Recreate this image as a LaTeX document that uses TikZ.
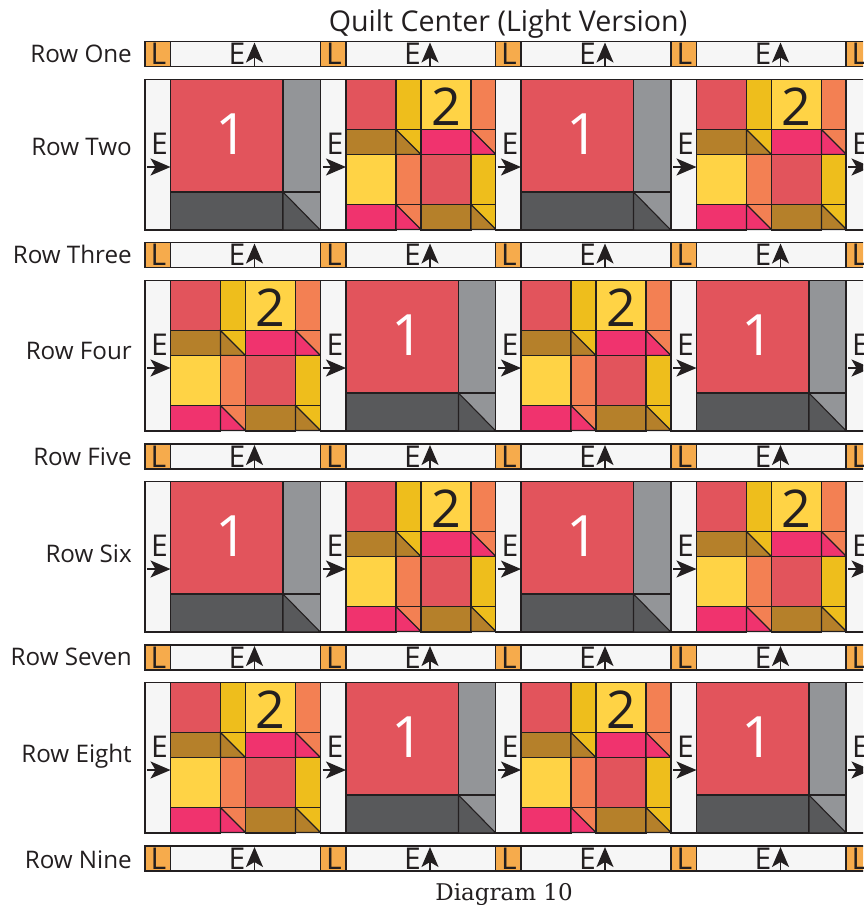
\documentclass[tikz,border=0pt]{standalone}
\usepackage{fontspec}
\setmainfont{Open Sans}
\newfontfamily\capfont{DejaVu Serif}
\usetikzlibrary{arrows.meta}
\definecolor{qline}{HTML}{231F20}
\definecolor{qred}{HTML}{E2545C}
\definecolor{qgrey}{HTML}{939598}
\definecolor{qdark}{HTML}{58595B}
\definecolor{qlorange}{HTML}{F6AB4C}
\definecolor{qbg}{HTML}{F6F6F6}
\definecolor{qdy}{HTML}{EEBE1C}
\definecolor{qly}{HTML}{FFD345}
\definecolor{qor}{HTML}{F38053}
\definecolor{qbr}{HTML}{B5802A}
\definecolor{qpk}{HTML}{F0336E}
\tikzset{
  cellbox/.style={draw=qline,line width=1.1pt},
  rowlabel/.style={anchor=base east,font=\fontsize{24.2}{24}\selectfont,text=qline,inner sep=0pt},
  letter/.style={anchor=base,font=\fontsize{30}{30}\selectfont,text=qline,inner sep=0pt},
  arrowline/.style={draw=qline,line width=1.6pt,-{Stealth[length=20pt,width=17pt,inset=5pt]}},
}
% cell: x y w h colour
\newcommand{\qcell}[5]{\path[cellbox,fill=#5] (#1,#2) rectangle ++(#3,#4);}
% triangle cell 25x25: x y lower-left colour, upper-right colour
\newcommand{\qtri}[4]{%
  \path[cellbox,fill=#4] (#1,#2) rectangle ++(25,25);
  \path[cellbox,fill=#3] (#1,#2) -- ++(25,25) -- ++(-25,0) -- cycle;}
% horizontal strip
\newcommand{\qstrip}[3]{% x y id
  \path[cellbox,fill=qlorange] (#1,#2) rectangle ++(25.5,25);
  \node[letter] (L#3) at (#1+13.5,#2+23.2) {L};
  \path[cellbox,fill=qbg] (#1+25.5,#2) rectangle ++(149.75,25);
  \ifdim #1pt<800pt
    \node[letter] (E#3) at (#1+92,#2+23.2) {E};
    \coordinate (ua#3) at (#1+109.5,#2+25);
    \coordinate (ub#3) at (#1+109.5,#2+1);
    \draw[arrowline] (ua#3) -- (ub#3);
  \fi}
% E panel
\newcommand{\qpanel}[3]{%
  \path[cellbox,fill=qbg] (#1,#2) rectangle ++(25.5,150.5);
  \node[letter] (P#3) at (#1+14.5,#2+74.5) {E};
  \coordinate (ra#3) at (#1+2,#2+87.5);
  \coordinate (rb#3) at (#1+25.5,#2+87.5);
  \draw[arrowline] (ra#3) -- (rb#3);}
\newcommand{\qblockone}[3]{%
  \qcell{#1}{#2}{112.5}{112.5}{qred}
  \qcell{#1+112.5}{#2}{37.25}{112.5}{qgrey}
  \qcell{#1}{#2+112.5}{112.5}{38}{qdark}
  \path[cellbox,fill=qgrey] (#1+112.5,#2+112.5) rectangle ++(37.25,38);
  \path[cellbox,fill=qdark] (#1+112.5,#2+112.5) -- ++(37.25,38) -- ++(-37.25,0) -- cycle;
  \node[anchor=base,inner sep=0pt,text=white,font=\fontsize{57}{57}\selectfont] (N#3) at (#1+61.5,#2+74.5) {1};}
\newcommand{\qblocktwo}[3]{%
  \qcell{#1}{#2}{50}{50}{qred}
  \qcell{#1+50}{#2}{25}{50}{qdy}
  \qcell{#1+75}{#2}{50}{50}{qly}
  \qcell{#1+125}{#2}{24.75}{50}{qor}
  \qcell{#1}{#2+50}{50}{25}{qbr}
  \qtri{#1+50}{#2+50}{qbr}{qdy}
  \qcell{#1+75}{#2+50}{50}{25}{qpk}
  \qtri{#1+125}{#2+50}{qpk}{qor}
  \qcell{#1}{#2+75}{50}{50}{qly}
  \qcell{#1+50}{#2+75}{25}{50}{qor}
  \qcell{#1+75}{#2+75}{50}{50}{qred}
  \qcell{#1+125}{#2+75}{24.75}{50}{qdy}
  \qcell{#1}{#2+125}{50}{25.5}{qpk}
  \qtri{#1+50}{#2+125}{qpk}{qor}
  \qcell{#1+75}{#2+125}{50}{25.5}{qbr}
  \qtri{#1+125}{#2+125}{qbr}{qdy}
  \node[anchor=base,inner sep=0pt,text=qline,font=\fontsize{52}{52}\selectfont] (N#3) at (#1+100,#2+45.5) {2};}
\begin{document}
\begin{tikzpicture}[x=1pt,y=-1pt]
\clip (0,0) rectangle (863,905);
\fill[white] (0,0) rectangle (863,905);
\foreach \sy/\sid in {41.5/a,242.5/b,444/c,645/d,846/e}{
  \foreach \sx/\cid in {145/1,320.5/2,495.5/3,671/4,846/5}{
    \qstrip{\sx}{\sy}{\sid\cid}
  }
}
\foreach \by/\first/\bid in {79.5/1/f,280.5/2/g,481.5/1/h,682.5/2/i}{
  \foreach \bx/\cid/\odd in {145/1/1,320.5/2/0,495.5/3/1,671/4/0}{
    \qpanel{\bx}{\by}{\bid\cid}
    \pgfmathtruncatemacro{\kind}{\odd==1 ? \first : 3-\first}
    \ifnum\kind=1
      \qblockone{\bx+25.5}{\by}{\bid\cid}
    \else
      \qblocktwo{\bx+25.5}{\by}{\bid\cid}
    \fi
  }
  \qpanel{846}{\by}{\bid5}
}
\node[rowlabel] (r1) at (132,62) {Row One};
\node[rowlabel] (r2) at (132,155) {Row Two};
\node[rowlabel] (r3) at (132,263) {Row Three};
\node[rowlabel] (r4) at (132,359) {Row Four};
\node[rowlabel] (r5) at (132,465) {Row Five};
\node[rowlabel] (r6) at (132,562) {Row Six};
\node[rowlabel] (r7) at (132,665) {Row Seven};
\node[rowlabel] (r8) at (132,762) {Row Eight};
\node[rowlabel] (r9) at (132,868) {Row Nine};
\node[anchor=base,inner sep=0pt,text=qline,font=\fontsize{28.6}{28}\selectfont] (title) at (508,31) {Quilt Center (Light Version)};
\node[anchor=base,inner sep=0pt,text=qline,font=\capfont\fontsize{23}{23}\selectfont] (cap) at (504,900) {Diagram 10};
\end{tikzpicture}
\end{document}
